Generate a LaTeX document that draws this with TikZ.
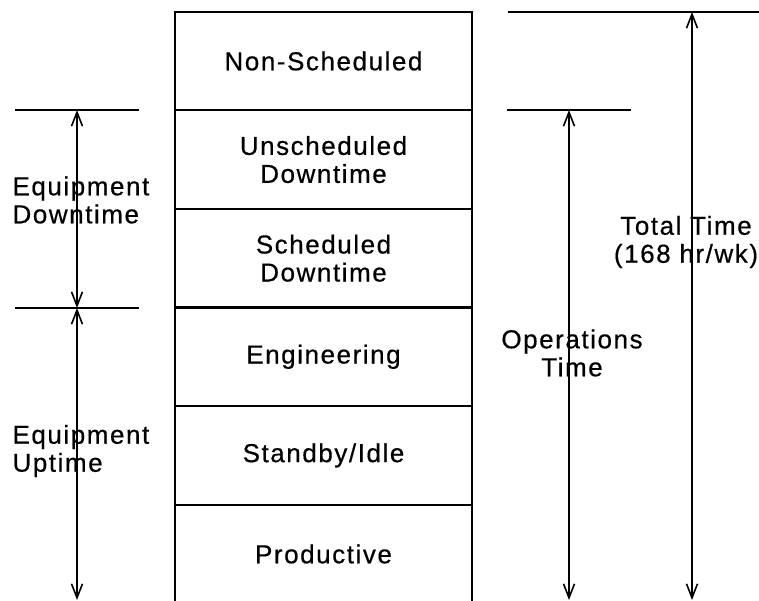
\documentclass[tikz,border=0pt]{standalone}
\usepackage{fontspec}
\setmainfont{Liberation Sans}[LetterSpace=6,FakeBold=0.5]
\usetikzlibrary{arrows.meta,positioning}

\tikzset{
  block/.style={draw, line width=2.2pt, minimum width=297, minimum height=98.6,
    inner sep=0pt, outer sep=0pt, align=center},
  tick/.style={line width=2.2pt},
  span/.style={line width=1.6pt, {Straight Barb[length=14pt,width=11pt]}-{Straight Barb[length=14pt,width=11pt]}}
}

\begin{document}
\begin{tikzpicture}[x=1pt, y=-1pt, node distance=0pt,
  font=\fontsize{26}{28}\selectfont]
\useasboundingbox (0,0) rectangle (759,600);
\clip (0,0) rectangle (759,600);

% time blocks
\node[block] (nonsched) at (323.5,61) {Non-Scheduled};
\node[block, below=of nonsched] (unsched) {Unscheduled\\Downtime};
\node[block, below=of unsched] (sched) {Scheduled\\Downtime};
\node[block, below=of sched] (eng) {Engineering};
\node[block, below=of eng] (standby) {Standby/Idle};
\node[block, below=of standby] (prod) {Productive};

% ticks
\coordinate (dtL) at (15,110);  \coordinate (dtR) at (139,110);
\coordinate (utL) at (15,308);  \coordinate (utR) at (139,308);
\coordinate (ttL) at (508,12);  \coordinate (ttR) at (759,12);
\coordinate (otL) at (507,110); \coordinate (otR) at (631,110);
\draw[tick] (dtL) -- (dtR);
\draw[tick] (utL) -- (utR);
\draw[tick] (ttL) -- (ttR);
\draw[tick] (otL) -- (otR);

% spans
\coordinate (eqA) at (77,110);
\coordinate (eqB) at (77,308);
\coordinate (eqC) at (77,600);
\coordinate (opA) at (569,110);
\coordinate (opB) at (569,600);
\coordinate (toA) at (692,12);
\coordinate (toB) at (692,600);
\draw[span] (eqA) -- (eqB);
\draw[span] (eqB) -- (eqC);
\draw[span] (opA) -- (opB);
\draw[span] (toA) -- (toB);

% labels
\node[anchor=west, align=left] (downlbl) at (9,200) {Equipment\\Downtime};
\node[anchor=west, align=left] (uplbl) at (9,451) {Equipment\\Uptime};
\node[align=center] (oplbl) at (572,353) {Operations\\Time};
\node[align=center] (totlbl) at (686,242) {Total Time\\(168 hr/wk)};

\end{tikzpicture}
\end{document}
